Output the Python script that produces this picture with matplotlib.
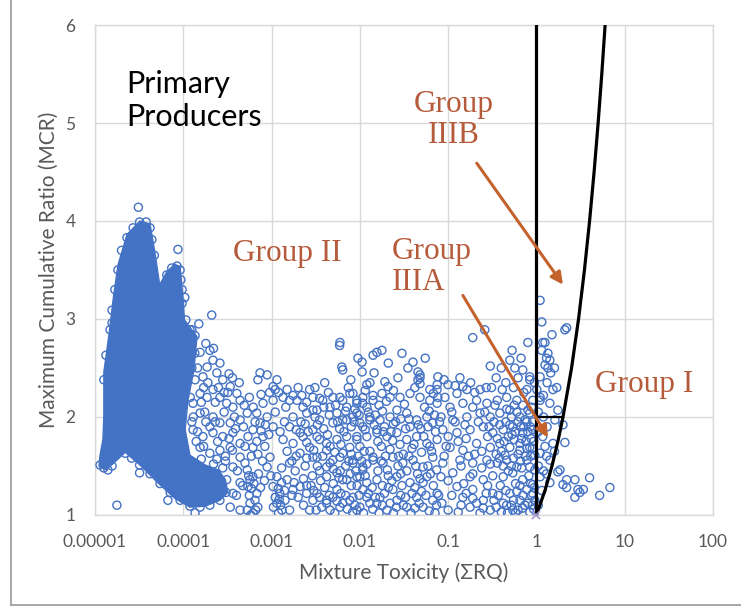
import matplotlib.pyplot as plt
from matplotlib.patches import Polygon
from matplotlib.lines import Line2D

# outline of the saturated cloud of low-toxicity samples (ΣRQ, MCR)
core_outline = [
    (1.11e-5, 1.50), (1.14e-5, 1.61), (1.23e-5, 1.77), (1.26e-5, 2.02),
    (1.26e-5, 2.46), (1.44e-5, 2.84), (1.60e-5, 3.19), (1.82e-5, 3.55),
    (2.30e-5, 3.86), (3.23e-5, 4.00), (4.20e-5, 3.97), (4.77e-5, 3.68),
    (5.40e-5, 3.35), (6.50e-5, 3.48), (8.00e-5, 3.56), (9.20e-5, 3.53),
    (1.00e-4, 3.19), (1.03e-4, 2.99), (1.43e-4, 2.82), (1.32e-4, 2.48),
    (1.13e-4, 2.17), (1.05e-4, 1.87), (1.19e-4, 1.61), (1.77e-4, 1.51),
    (2.50e-4, 1.46), (3.00e-4, 1.36), (3.20e-4, 1.23), (2.60e-4, 1.15),
    (1.77e-4, 1.09), (1.19e-4, 1.08), (8.00e-5, 1.17), (5.00e-5, 1.34),
    (3.23e-5, 1.51), (2.20e-5, 1.64), (1.68e-5, 1.54), (1.33e-5, 1.46),
]

# samples with ΣRQ below 1e-3
samples_low = [
    (3.1e-5, 4.14), (8.7e-5, 3.71), (2.1e-4, 3.04), (1.56e-5, 2.96),
    (1.77e-5, 1.10), (6.7e-5, 1.15), (1.36e-4, 1.02), (3.2e-5, 1.43),
    (2.0e-5, 1.69), (1.04e-4, 3.22), (9.7e-5, 3.16), (7.1e-5, 1.56),
    (1.26e-5, 2.38), (1.33e-5, 2.63), (1.48e-5, 2.89), (1.56e-5, 3.09),
    (1.68e-5, 3.30), (1.82e-5, 3.50), (2.0e-5, 3.70), (2.3e-5, 3.83),
    (2.7e-5, 3.93), (3.2e-5, 3.99), (3.8e-5, 3.99), (4.2e-5, 3.93),
    (4.4e-5, 3.81), (4.7e-5, 3.65), (6.5e-5, 3.45), (7.4e-5, 3.52),
    (8.5e-5, 3.54), (9.2e-5, 3.50), (9.4e-5, 3.40), (9.7e-5, 3.30),
    (1.07e-4, 2.99), (1.19e-4, 2.89), (1.36e-4, 2.83), (1.14e-5, 1.51),
    (1.26e-5, 1.48), (1.40e-5, 1.46), (1.56e-5, 1.50), (2.2e-5, 1.63),
    (2.6e-5, 1.58), (3.2e-5, 1.51), (4.2e-5, 1.42), (5.45e-5, 1.32),
    (7.1e-5, 1.23), (9.2e-5, 1.15), (1.19e-4, 1.09), (1.55e-4, 1.08),
    (2.0e-4, 1.10), (2.6e-4, 1.15), (3.05e-4, 1.23),
    (1.25e-4, 2.89), (1.55e-4, 2.66), (2.0e-4, 2.68), (2.17e-4, 2.58),
    (1.86e-4, 2.51), (1.10e-4, 2.41), (1.36e-4, 2.38), (1.67e-4, 2.41),
    (2.4e-4, 2.45), (2.8e-4, 2.38), (3.4e-4, 2.31), (4.05e-4, 2.24),
    (4.4e-4, 2.17), (3.65e-4, 2.10), (3.1e-4, 2.14), (2.6e-4, 2.20),
    (2.17e-4, 2.28), (1.86e-4, 2.20), (1.55e-4, 2.24), (1.29e-4, 2.14),
    (1.55e-4, 2.04), (2.17e-4, 2.00), (2.6e-4, 1.94), (3.4e-4, 1.94),
    (4.4e-4, 1.97), (5.3e-4, 2.04), (3.65e-4, 1.84), (2.8e-4, 1.80),
    (2.17e-4, 1.84), (1.67e-4, 1.80), (1.29e-4, 1.87), (1.55e-4, 1.69),
    (2.0e-4, 1.63), (2.6e-4, 1.66), (3.4e-4, 1.69), (4.4e-4, 1.73),
    (5.4e-4, 1.80), (6.15e-4, 1.87), (7.4e-4, 1.94), (8.9e-4, 2.00),
    (6.8e-4, 2.04), (8.0e-4, 2.14), (7.0e-4, 2.38), (8.9e-4, 2.43),
    (7.4e-4, 2.45), (5.3e-4, 1.46), (6.15e-4, 1.39), (5.4e-4, 1.29),
    (6.8e-4, 1.22), (5.7e-4, 1.12), (5.3e-4, 1.05), (6.15e-4, 1.02),
    (5.0e-4, 1.53), (5.7e-4, 1.36), (6.5e-4, 1.15), (7.0e-4, 1.08),
    (9.6e-4, 1.59), (8.9e-4, 1.49), (8.0e-4, 1.80), (6.15e-4, 1.69),
    (4.4e-4, 1.59), (3.65e-4, 1.49), (3.1e-4, 1.36), (2.6e-4, 1.26),
    (2.17e-4, 1.18), (3.65e-4, 1.22), (4.4e-4, 1.33), (3.4e-4, 1.08),
    (4.4e-4, 1.05),
    (1.15e-4, 2.60), (1.2e-4, 2.20), (1.45e-4, 2.50), (1.7e-4, 2.30),
    (1.9e-4, 2.35), (2.3e-4, 2.15), (2.9e-4, 2.05), (3.2e-4, 2.25),
    (3.8e-4, 2.00), (4.8e-4, 1.90), (2.0e-4, 1.90), (2.45e-4, 1.75),
    (3.0e-4, 1.60), (3.6e-4, 1.66), (4.1e-4, 1.45), (4.7e-4, 1.30),
    (4.0e-4, 1.20), (3.0e-4, 1.55), (1.8e-4, 1.95), (1.4e-4, 1.75),
    (1.3e-4, 2.00), (1.6e-4, 1.57), (2.2e-4, 1.52), (5.0e-4, 1.70),
    (5.9e-4, 1.60), (6.8e-4, 1.75), (7.6e-4, 1.86), (8.4e-4, 1.70),
    (9.3e-4, 1.82), (7.9e-4, 1.55), (7.1e-4, 1.42), (8.3e-4, 1.35),
    (9.8e-4, 1.40), (7.5e-4, 1.28), (1.8e-4, 2.75), (2.2e-4, 2.70),
    (1.5e-4, 2.95), (2.6e-4, 2.55), (3.3e-4, 2.44), (4.3e-4, 2.35),
    (5.6e-4, 2.20), (6.2e-4, 2.10), (7.6e-4, 2.23), (9.5e-4, 2.25),
    (5.6e-4, 1.20), (5.9e-4, 1.27), (6.3e-4, 1.32), (5.5e-4, 1.40),
    (6.6e-4, 1.05), (5.8e-4, 1.00),
    (1.1e-4, 2.75), (1.25e-4, 2.50), (1.35e-4, 2.65), (1.6e-4, 2.15),
    (1.75e-4, 2.05), (1.25e-4, 1.95), (1.45e-4, 1.85), (1.7e-4, 1.70),
    (2.3e-4, 1.95), (2.5e-4, 2.30), (2.9e-4, 2.25), (3.6e-4, 2.40),
    (2.4e-4, 1.57), (2.8e-4, 1.48), (3.3e-4, 1.78), (3.9e-4, 1.88),
    (4.9e-4, 2.12), (6.5e-4, 1.95), (8.5e-4, 1.92), (7.0e-4, 1.62),
]

# samples with ΣRQ between 1e-3 and 0.1
samples_mid = [
    (1.04e-3, 2.17), (1.35e-3, 2.20), (1.75e-3, 2.22), (2.2e-3, 2.22),
    (2.7e-3, 2.28), (3.5e-3, 2.19), (4.95e-3, 2.20), (6.4e-3, 2.17),
    (8.35e-3, 2.24), (1.08e-2, 2.20), (1.41e-2, 2.22), (1.04e-3, 2.31),
    (1.15e-3, 2.38), (1.1e-3, 2.28), (1.5e-3, 2.28), (1.94e-3, 2.17),
    (2.27e-3, 2.10), (2.94e-3, 2.07), (4.6e-3, 2.10), (5.5e-3, 2.04),
    (7.1e-3, 2.10), (9.25e-3, 2.14), (1.2e-2, 2.10), (1.15e-3, 1.39),
    (1.04e-3, 1.29), (1.24e-3, 1.22), (1.15e-3, 1.12), (1.31e-3, 1.05),
    (1.42e-3, 1.15), (1.5e-3, 1.36), (1.75e-3, 1.26), (2.1e-3, 1.29),
    (2.5e-3, 1.22), (2.94e-3, 1.15), (3.5e-3, 1.18), (4.2e-3, 1.12),
    (4.95e-3, 1.18), (5.95e-3, 1.08), (7.7e-3, 1.15), (1.0e-2, 1.08),
    (1.2e-2, 1.18), (1.56e-2, 1.12), (1.6e-3, 1.53), (2.1e-3, 1.63),
    (1.75e-3, 1.73), (2.27e-3, 1.80), (2.94e-3, 1.87), (3.5e-3, 1.77),
    (4.2e-3, 1.66), (4.95e-3, 1.56), (6.4e-3, 1.63), (7.7e-3, 1.69),
    (9.25e-3, 1.80), (1.08e-2, 1.90), (1.3e-2, 1.97), (1.56e-2, 1.87),
    (8.35e-3, 1.53), (1.08e-2, 1.46), (1.41e-2, 1.56), (1.75e-3, 2.00),
    (2.5e-3, 2.04), (3.5e-3, 1.97), (4.95e-3, 1.94), (7.1e-3, 1.97),
    (9.25e-3, 2.04), (4.0e-3, 2.35), (5.95e-3, 2.76), (6.25e-3, 2.51),
    (1.6e-3, 1.90), (2.1e-3, 1.84), (2.7e-3, 1.69), (3.27e-3, 1.59),
    (4.2e-3, 1.49), (5.5e-3, 1.43), (7.1e-3, 1.36), (9.25e-3, 1.39),
    (1.2e-2, 1.33), (1.35e-3, 1.77), (1.04e-3, 1.90),
    (5.9e-3, 2.73), (6.4e-3, 2.48), (1.06e-2, 2.56), (1.06e-2, 2.46),
    (1.56e-2, 2.66), (1.78e-2, 2.68), (1.41e-2, 2.63), (4.0e-2, 2.56),
    (4.8e-2, 2.43), (4.55e-2, 2.38), (1.2e-2, 2.33), (1.92e-2, 2.36),
    (2.08e-2, 2.31), (7.5e-2, 2.33), (6.2e-2, 2.28), (2.94e-3, 2.20),
    (3.8e-3, 2.17), (3.27e-3, 2.07), (5.95e-3, 2.20), (7.7e-3, 2.24),
    (9.25e-3, 2.17), (1.08e-2, 2.14), (1.41e-2, 2.17), (1.78e-2, 2.24),
    (2.2e-2, 2.20), (2.85e-2, 2.20), (3.7e-2, 2.24), (4.8e-2, 2.20),
    (6.2e-2, 2.17), (7.65e-2, 2.20), (6.4e-3, 1.97), (8.35e-3, 2.00),
    (1.0e-2, 1.94), (1.3e-2, 2.00), (1.69e-2, 1.97), (2.2e-2, 2.00),
    (2.63e-2, 2.07), (3.4e-2, 2.04), (4.4e-2, 1.97), (5.75e-2, 2.00),
    (6.7e-2, 1.94), (3.27e-3, 1.80), (4.2e-3, 1.73), (5.5e-3, 1.77),
    (7.1e-3, 1.80), (9.25e-3, 1.77), (1.2e-2, 1.80), (1.56e-2, 1.84),
    (2.03e-2, 1.80), (2.63e-2, 1.84), (3.4e-2, 1.77), (4.4e-2, 1.80),
    (5.75e-2, 1.73), (7.5e-2, 1.77), (2.94e-3, 1.59), (4.6e-3, 1.53),
    (5.95e-3, 1.59), (8.35e-3, 1.56), (1.08e-2, 1.49), (1.41e-2, 1.59),
    (1.83e-2, 1.53), (2.37e-2, 1.59), (3.07e-2, 1.53), (4.0e-2, 1.56),
    (5.2e-2, 1.49), (6.7e-2, 1.59), (4.2e-3, 1.39), (6.4e-3, 1.36),
    (1.0e-2, 1.39), (1.56e-2, 1.36), (2.63e-2, 1.39), (3.7e-2, 1.33),
    (5.75e-2, 1.39), (3.27e-3, 1.22), (4.2e-3, 1.15), (5.5e-3, 1.26),
    (6.4e-3, 1.12), (8.35e-3, 1.18), (1.08e-2, 1.26), (1.3e-2, 1.12),
    (1.69e-2, 1.18), (2.03e-2, 1.05), (2.63e-2, 1.15), (3.4e-2, 1.08),
    (4.4e-2, 1.18), (5.2e-2, 1.08), (6.7e-2, 1.15), (4.6e-3, 1.05),
    (9.25e-3, 1.05), (2.37e-2, 1.26), (4.55e-2, 2.46), (4.8e-2, 2.40),
    (4.8e-2, 2.34),
    (1.2e-3, 1.02), (1.27e-3, 1.10), (1.1e-3, 1.18), (1.19e-3, 1.27),
    (1.3e-3, 1.33), (1.05e-3, 1.08), (1.22e-3, 1.16),
    (1.2e-3, 2.25), (1.6e-3, 2.17), (2.0e-3, 2.30), (2.5e-3, 2.15),
    (3.1e-3, 2.30), (4.4e-3, 2.25), (5.3e-3, 2.12), (7.4e-3, 2.30),
    (8.8e-3, 2.08), (1.15e-2, 2.27), (1.3e-2, 2.35), (1.65e-2, 2.12),
    (2.0e-2, 2.16), (2.4e-2, 2.27), (3.2e-2, 2.13), (4.2e-2, 2.30),
    (5.4e-2, 2.10), (6.8e-2, 2.24), (2.7e-2, 2.40), (3.5e-2, 2.50),
    (2.1e-2, 2.55), (1.45e-2, 2.45), (9.5e-3, 2.60), (7.9e-3, 2.38),
    (3.0e-2, 2.65), (5.5e-2, 2.60),
    (1.4e-3, 1.95), (1.9e-3, 1.87), (2.4e-3, 1.93), (3.1e-3, 2.00),
    (3.9e-3, 1.88), (4.5e-3, 2.02), (5.9e-3, 1.88), (6.9e-3, 2.06),
    (8.0e-3, 1.90), (9.8e-3, 2.02), (1.15e-2, 1.87), (1.45e-2, 1.92),
    (1.8e-2, 2.06), (1.9e-2, 1.90), (2.4e-2, 1.93), (2.9e-2, 1.98),
    (3.7e-2, 1.90), (4.9e-2, 1.88), (6.1e-2, 2.06), (7.2e-2, 1.85),
    (1.5e-3, 1.65), (1.9e-3, 1.60), (2.5e-3, 1.74), (3.0e-3, 1.66),
    (3.8e-3, 1.60), (4.6e-3, 1.70), (5.2e-3, 1.64), (6.1e-3, 1.72),
    (8.0e-3, 1.62), (1.0e-2, 1.70), (1.3e-2, 1.65), (1.75e-2, 1.70),
    (2.2e-2, 1.67), (2.85e-2, 1.72), (3.1e-2, 1.62), (3.9e-2, 1.68),
    (5.0e-2, 1.64), (6.2e-2, 1.70), (2.35e-2, 1.76), (1.85e-2, 1.85),
    (1.3e-3, 1.48), (1.85e-3, 1.45), (2.4e-3, 1.50), (3.5e-3, 1.45),
    (5.0e-3, 1.47), (6.9e-3, 1.50), (9.0e-3, 1.45), (1.2e-2, 1.52),
    (1.6e-2, 1.45), (2.05e-2, 1.46), (2.7e-2, 1.50), (3.4e-2, 1.45),
    (4.5e-2, 1.42), (5.9e-2, 1.50), (7.4e-2, 1.46),
    (1.8e-3, 1.33), (2.3e-3, 1.37), (2.8e-3, 1.30), (3.6e-3, 1.35),
    (5.0e-3, 1.32), (5.8e-3, 1.38), (8.0e-3, 1.30), (1.15e-2, 1.40),
    (1.38e-2, 1.28), (1.8e-2, 1.30), (2.1e-2, 1.40), (3.0e-2, 1.30),
    (4.2e-2, 1.28), (4.8e-2, 1.37), (6.8e-2, 1.30),
    (2.0e-3, 1.18), (2.3e-3, 1.10), (2.7e-3, 1.05), (3.0e-3, 1.25),
    (3.7e-3, 1.08), (4.5e-3, 1.20), (5.2e-3, 1.02), (5.5e-3, 1.14),
    (6.9e-3, 1.20), (7.2e-3, 1.06), (8.8e-3, 1.10), (9.8e-3, 1.20),
    (1.1e-2, 1.02), (1.25e-2, 1.22), (1.4e-2, 1.06), (1.5e-2, 1.18),
    (1.8e-2, 1.10), (1.9e-2, 1.22), (2.2e-2, 1.12), (2.4e-2, 1.02),
    (2.9e-2, 1.20), (3.1e-2, 1.10), (3.8e-2, 1.02), (3.9e-2, 1.22),
    (4.7e-2, 1.12), (5.6e-2, 1.20), (6.1e-2, 1.04), (7.4e-2, 1.10),
    (7.8e-2, 1.20), (1.6e-3, 1.05), (1.7e-3, 1.20),
    (1.1e-3, 2.05), (1.25e-3, 1.85), (1.45e-3, 2.10), (1.7e-3, 1.55),
    (2.15e-3, 1.95), (2.6e-3, 1.85), (2.9e-3, 1.40), (3.3e-3, 1.92),
    (3.9e-3, 2.10), (4.3e-3, 1.82), (5.6e-3, 1.95), (6.6e-3, 1.85),
    (7.5e-3, 1.55), (8.6e-3, 1.95), (9.6e-3, 1.60), (1.12e-2, 1.65),
    (1.25e-2, 2.05), (1.5e-2, 2.02), (1.6e-2, 1.75), (1.95e-2, 1.60),
    (2.25e-2, 1.85), (2.55e-2, 1.95), (2.75e-2, 1.60), (3.3e-2, 1.88),
    (3.6e-2, 1.98), (4.1e-2, 1.72), (4.6e-2, 1.92), (5.3e-2, 1.80),
    (5.9e-2, 1.90), (6.5e-2, 1.65), (7.0e-2, 2.02), (2.5e-3, 1.58),
    (3.3e-3, 1.50), (6.0e-3, 1.45), (7.8e-3, 1.42), (1.05e-2, 1.55),
    (1.75e-2, 1.55), (2.3e-2, 1.35), (2.9e-2, 1.42), (3.6e-2, 1.60),
    (4.3e-2, 1.50), (5.2e-2, 1.33), (6.3e-2, 1.42), (1.4e-3, 1.25),
    (2.5e-3, 1.30), (3.2e-3, 1.05), (4.0e-3, 1.28), (6.1e-3, 1.22),
    (8.3e-3, 1.03), (9.3e-3, 1.30), (1.65e-2, 1.02), (2.1e-2, 1.28),
    (2.6e-2, 1.08), (3.3e-2, 1.18), (4.2e-2, 1.07), (5.0e-2, 1.24),
    (7.1e-2, 1.02),
]

# samples with ΣRQ above 0.07
samples_high = [
    (0.19, 2.81), (0.26, 2.89), (0.53, 2.68), (0.50, 2.58), (0.80, 2.76),
    (1.25, 2.76), (1.5, 2.84), (1.15, 2.97), (1.1, 3.19), (2.2, 2.91),
    (2.1, 2.89), (1.18, 2.76), (1.35, 2.65), (1.42, 2.58), (1.25, 2.53),
    (1.35, 2.50), (0.0765, 2.41), (0.0995, 2.33), (0.136, 2.40),
    (0.147, 2.31), (0.075, 2.28), (0.092, 2.20), (0.126, 2.24),
    (0.163, 2.28), (0.23, 2.28), (0.31, 2.30), (0.41, 2.28), (0.62, 2.40),
    (0.84, 2.41), (0.70, 2.48), (0.075, 2.14), (0.105, 2.10),
    (0.147, 2.14), (0.21, 2.17), (0.275, 2.14), (0.36, 2.17), (0.46, 2.20),
    (0.60, 2.17), (0.78, 2.28), (0.91, 2.17), (0.083, 2.00), (0.113, 1.97),
    (0.163, 2.00), (0.23, 2.04), (0.30, 2.00), (0.385, 2.04), (0.50, 2.07),
    (0.65, 2.00), (0.84, 2.04), (0.087, 1.87), (0.126, 1.84), (0.177, 1.87),
    (0.25, 1.90), (0.32, 1.84), (0.42, 1.87), (0.54, 1.90), (0.70, 1.84),
    (0.91, 1.87), (0.105, 1.69), (0.147, 1.66), (0.21, 1.73), (0.30, 1.69),
    (0.385, 1.73), (0.50, 1.69), (0.65, 1.73), (0.84, 1.69), (0.087, 1.53),
    (0.136, 1.56), (0.19, 1.53), (0.275, 1.56), (0.36, 1.53), (0.46, 1.56),
    (0.60, 1.49), (0.78, 1.56), (0.083, 1.39), (0.113, 1.43), (0.177, 1.39),
    (0.25, 1.36), (0.42, 1.39), (0.54, 1.43), (0.70, 1.36), (0.075, 1.22),
    (0.126, 1.29), (0.147, 1.18), (0.19, 1.26), (0.25, 1.15), (0.32, 1.22),
    (0.42, 1.12), (0.50, 1.22), (0.65, 1.15), (0.177, 1.08), (0.30, 1.05),
    (0.54, 1.05), (0.78, 1.26), (1.01, 2.28), (1.1, 2.17), (0.56, 1.77),
    (0.53, 1.82), (0.65, 1.66), (0.44, 1.61), (0.74, 1.97), (0.80, 2.07),
    (0.385, 1.92), (0.96, 1.61), (0.96, 1.46), (0.91, 1.31), (0.74, 1.10),
    (0.84, 1.03), (0.96, 1.15), (0.84, 2.38), (1.1, 2.41), (1.32, 2.35),
    (1.54, 2.28), (1.1, 2.20), (1.42, 2.14), (1.75, 2.07), (1.62, 1.97),
    (2.0, 1.92), (1.32, 1.90), (1.18, 1.80), (1.54, 1.73), (2.1, 1.74),
    (1.1, 1.63), (1.42, 1.56), (1.75, 1.44), (1.85, 1.46), (1.42, 1.33),
    (2.0, 1.31), (2.2, 1.28), (2.73, 1.36), (4.0, 1.38), (3.1, 1.23),
    (3.4, 1.26), (2.73, 1.18), (5.2, 1.20), (6.8, 1.28), (1.1, 1.39),
    (0.91, 1.22), (0.84, 1.49), (2.2, 1.36), (2.95, 1.26),
    (0.09, 2.38), (0.12, 2.32), (0.18, 2.35), (0.20, 2.25), (0.27, 2.30),
    (0.35, 2.40), (0.45, 2.35), (0.55, 2.30), (0.72, 2.25), (0.95, 2.35),
    (0.40, 2.50), (0.30, 2.52), (0.57, 2.50), (0.67, 2.60),
    (0.33, 1.95), (0.36, 1.78), (0.40, 1.65), (0.45, 1.95), (0.48, 1.80),
    (0.52, 2.00), (0.58, 1.85), (0.62, 1.95), (0.68, 1.78), (0.72, 1.90),
    (0.76, 1.75), (0.80, 1.85), (0.87, 1.78), (0.92, 1.95), (0.88, 2.10),
    (0.70, 2.12), (0.56, 2.12), (0.46, 2.08), (0.62, 1.62), (0.75, 1.60),
    (0.55, 1.58), (0.48, 1.45), (0.68, 1.48), (0.86, 1.60), (0.93, 1.75),
    (0.35, 1.62), (0.28, 1.80), (0.22, 1.95), (0.20, 1.62), (0.16, 1.78),
    (0.12, 1.95), (0.10, 1.80), (0.14, 1.50), (0.09, 1.60), (0.24, 1.48),
    (0.32, 1.40), (0.39, 1.30), (0.58, 1.32), (0.82, 1.40), (0.95, 1.28),
    (0.085, 1.12), (0.10, 1.05), (0.11, 1.20), (0.14, 1.10), (0.16, 1.22),
    (0.21, 1.12), (0.23, 1.02), (0.27, 1.22), (0.35, 1.08), (0.37, 1.20),
    (0.46, 1.10), (0.47, 1.02), (0.55, 1.15), (0.60, 1.24), (0.62, 1.05),
    (0.70, 1.20), (0.80, 1.12), (0.88, 1.20), (0.93, 1.06),
    (1.05, 2.05), (1.20, 2.00), (1.05, 1.85), (1.25, 1.70), (1.05, 1.50),
    (1.20, 1.45), (1.30, 1.60), (1.15, 1.25), (1.05, 1.10), (1.30, 1.42),
    (1.60, 1.65), (1.20, 2.22), (1.45, 2.45), (1.30, 2.60), (1.15, 2.68),
    (1.60, 2.50), (1.70, 2.30),
    (0.08, 1.95), (0.095, 1.70), (0.11, 2.05), (0.13, 1.75), (0.155, 1.92),
    (0.17, 1.60), (0.19, 2.10), (0.24, 1.65), (0.26, 2.05), (0.29, 1.90),
    (0.34, 2.12), (0.38, 1.58), (0.43, 1.75), (0.50, 1.92), (0.60, 2.05),
    (0.66, 1.90), (0.78, 1.95), (0.85, 1.90), (0.90, 1.68), (0.78, 1.68),
    (0.66, 1.55), (0.52, 1.50), (0.42, 1.50), (0.30, 1.52), (0.19, 1.42),
    (0.10, 1.35), (0.15, 1.32), (0.28, 1.30), (0.45, 1.25), (0.65, 1.30),
    (0.86, 1.32), (0.13, 1.03), (0.19, 1.17), (0.25, 1.07), (0.33, 1.15),
    (0.40, 1.03), (0.52, 1.10), (0.70, 1.07), (0.90, 1.10), (0.58, 1.02),
]

# group boundaries: ΣRQ = 1, MCR = ΣRQ (max RQ = 1) and MCR = 2
bound_rq = [1, 1.25, 1.5, 1.75, 2, 2.5, 3, 3.5, 4, 4.5, 5, 5.5, 6]
split_rq = [1, 2]
split_mcr = [2, 2]

x_ticks = [1e-5, 1e-4, 1e-3, 1e-2, 0.1, 1, 10, 100]
x_tick_labels = ["0.00001", "0.0001", "0.001", "0.01", "0.1", "1", "10", "100"]
y_ticks = [1, 2, 3, 4, 5, 6]

blue = "#4472C4"
grey_text = "#595959"
label_col = "#B55A3A"
arrow_col = "#C4622D"

fig = plt.figure(figsize=(7.41, 6.07), dpi=100)
ax = fig.add_axes([0.1282, 0.1516, 0.8340, 0.8072])
ax.set_xscale("log")
ax.set_xlim(1e-5, 100)
ax.set_ylim(1, 6)

ax.set_xticks(x_ticks)
ax.set_xticklabels(x_tick_labels)
ax.set_yticks(y_ticks)
ax.minorticks_off()
ax.tick_params(length=0, labelsize=12.5, labelcolor=grey_text)
ax.tick_params(axis="x", pad=14)
ax.tick_params(axis="y", pad=14)
for lab in ax.get_xticklabels() + ax.get_yticklabels():
    lab.set_family("Lato")
ax.grid(True, color="#D9D9D9", lw=1.0)
ax.set_axisbelow(True)
for sp in ax.spines.values():
    sp.set_color("#D9D9D9")
    sp.set_linewidth(1.0)

ax.set_xlabel("Mixture Toxicity (ΣRQ)", family="Lato", fontsize=15,
              color=grey_text)
ax.set_ylabel("Maximum Cumulative Ratio (MCR)", family="Lato", fontsize=15,
              color=grey_text)
ax.xaxis.set_label_coords(0.5, -0.097)
ax.yaxis.set_label_coords(-0.058, 0.5)

# saturated cloud, then the individual circles on top
ax.add_patch(Polygon(core_outline, closed=True, fc=blue, ec=blue, lw=1,
                     zorder=2))
pts = samples_low + samples_mid + samples_high
ax.scatter([p[0] for p in pts], [p[1] for p in pts], s=34, facecolors="none",
           edgecolors=blue, linewidths=1.0, zorder=3)

ax.plot([1, 1], [1, 6], color="black", lw=2.3, zorder=4)
ax.plot(bound_rq, bound_rq, color="black", lw=2.3, zorder=4)
ax.plot(split_rq, split_mcr, color="black", lw=1.6, zorder=4)
ax.plot([1], [1], marker="x", color="#A393CF", ms=6, mew=1.2, zorder=5,
        clip_on=False)

ax.text(2.24e-5, 5.23, "Primary\nProducers", family="Lato", fontsize=22,
        color="black", ha="left", va="center", linespacing=1.2)
serif = "Liberation Serif"
ax.text(1.49e-3, 3.67, "Group II", family=serif, fontsize=22.5,
        color=label_col, ha="center", va="center")
ax.text(0.116, 5.03, "Group\nIIIB", family=serif, fontsize=22.5,
        color=label_col, ha="center", va="center", linespacing=1.1)
ax.text(0.023, 3.53, "Group\nIIIA", family=serif, fontsize=22.5,
        color=label_col, ha="left", va="center", linespacing=1.1)
ax.text(16.5, 2.33, "Group I", family=serif, fontsize=22.5,
        color=label_col, ha="center", va="center")

arrow = dict(arrowstyle="-|>", color=arrow_col, lw=2.2, mutation_scale=18,
             shrinkA=0, shrinkB=0)
ax.annotate("", xy=(2.0, 3.35), xytext=(0.211, 4.59), arrowprops=arrow,
            zorder=6)
ax.annotate("", xy=(1.35, 1.79), xytext=(0.147, 3.24), arrowprops=arrow,
            zorder=6)

# chart-area frame (left and bottom edges)
fig.add_artist(Line2D([11 / 741, 11 / 741], [2 / 607, 1.0],
                      transform=fig.transFigure, color="#A0A0A0", lw=1.3))
fig.add_artist(Line2D([11 / 741, 1.0], [2 / 607, 2 / 607],
                      transform=fig.transFigure, color="#A0A0A0", lw=1.3))

fig.savefig("out.png", dpi=100)
